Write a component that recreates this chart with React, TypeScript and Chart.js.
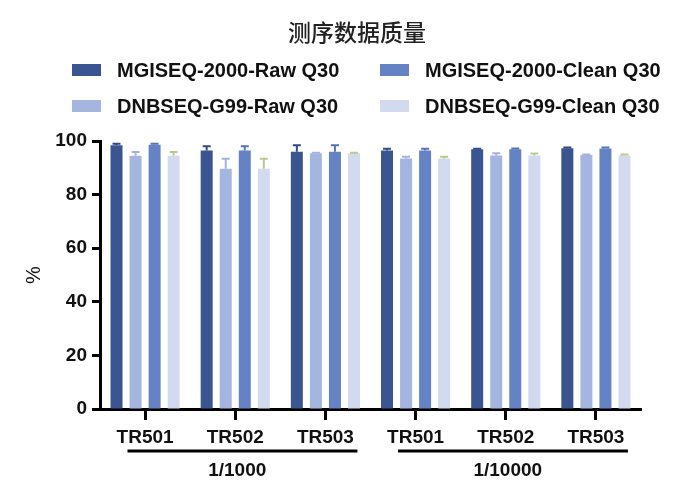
import { useEffect, useRef } from "react";
import { Chart, registerables } from "chart.js";
import type { Plugin } from "chart.js";

Chart.register(...registerables);

const chartTitle = "测序数据质量";
const yAxisTitle = "%";
const samples = ["TR501", "TR502", "TR503", "TR501", "TR502", "TR503"];
const dilutions = ["1/1000", "1/10000"];
const samplesPerDilution = 3;
const yTicks = [0, 20, 40, 60, 80, 100];

const seriesNames = [
  "MGISEQ-2000-Raw Q30",
  "DNBSEQ-G99-Raw Q30",
  "MGISEQ-2000-Clean Q30",
  "DNBSEQ-G99-Clean Q30",
];

const mgiRaw = [98.4, 96.5, 96.0, 96.5, 96.9, 97.3];
const mgiRawErr = [0.6, 1.5, 2.4, 0.6, 0.2, 0.3];
const dnbRaw = [94.5, 89.6, 95.4, 93.5, 94.6, 94.8];
const dnbRawErr = [1.4, 3.8, 0.2, 0.6, 0.8, 0.2];
const mgiClean = [98.6, 96.5, 96.0, 96.5, 96.9, 97.2];
const mgiCleanErr = [0.4, 1.5, 2.4, 0.6, 0.3, 0.4];
const dnbClean = [94.5, 89.6, 95.4, 93.5, 94.6, 94.6];
const dnbCleanErr = [1.4, 3.8, 0.2, 0.6, 0.7, 0.4];

const seriesValues = [mgiRaw, dnbRaw, mgiClean, dnbClean];
const seriesErrors = [mgiRawErr, dnbRawErr, mgiCleanErr, dnbCleanErr];
const barColors = ["#3b5591", "#a4b6df", "#6582c5", "#d1daef"];
const errColors = ["#2f4a87", "#a2b3dc", "#5574bb", "#b9cb8c"];

const SANS = "'Liberation Sans', Arial, Helvetica, sans-serif";
const CJK = "'Noto Sans CJK SC', 'Noto Sans', sans-serif";

// title + two-column legend drawn at the top
const headerPlugin: Plugin<"bar"> = {
  id: "header",
  afterDraw(chart) {
    const ctx = chart.ctx;
    ctx.save();
    ctx.fillStyle = "#222";
    ctx.font = `500 23px ${CJK}`;
    ctx.textAlign = "center";
    ctx.textBaseline = "middle";
    ctx.fillText(chartTitle, 357, 32);

    ctx.font = `bold 20px ${SANS}`;
    ctx.textAlign = "left";
    const colX = [72, 380];
    const rowY = [70, 106];
    chart.data.datasets.forEach((ds, i) => {
      const x = colX[Math.floor(i / 2)];
      const y = rowY[i % 2];
      ctx.fillStyle = ds.backgroundColor as string;
      ctx.fillRect(x, y - 6, 29, 12);
      ctx.fillStyle = "#111";
      ctx.fillText(ds.label ?? "", x + 45, y + 1);
    });
    ctx.restore();
  },
};

// upward-only error bars with caps
const errorBarPlugin: Plugin<"bar"> = {
  id: "errorBars",
  afterDatasetsDraw(chart) {
    const ctx = chart.ctx;
    const yScale = chart.scales.y;
    ctx.save();
    ctx.lineWidth = 2;
    chart.data.datasets.forEach((_, d) => {
      const meta = chart.getDatasetMeta(d);
      ctx.strokeStyle = errColors[d];
      meta.data.forEach((bar, i) => {
        const v = seriesValues[d][i];
        const e = seriesErrors[d][i];
        const y0 = yScale.getPixelForValue(v);
        const y1 = yScale.getPixelForValue(v + e);
        ctx.beginPath();
        ctx.moveTo(bar.x, y0);
        ctx.lineTo(bar.x, y1);
        ctx.moveTo(bar.x - 4, y1);
        ctx.lineTo(bar.x + 4, y1);
        ctx.stroke();
      });
    });
    ctx.restore();
  },
};

// dilution group underline + label under the x tick labels
const groupPlugin: Plugin<"bar"> = {
  id: "groups",
  afterDraw(chart) {
    const ctx = chart.ctx;
    const xScale = chart.scales.x;
    const w = xScale.width / samples.length;
    ctx.save();
    ctx.strokeStyle = "#000";
    ctx.lineWidth = 3;
    ctx.fillStyle = "#111";
    ctx.font = `bold 19px ${SANS}`;
    ctx.textAlign = "center";
    ctx.textBaseline = "middle";
    dilutions.forEach((label, g) => {
      const first = g * samplesPerDilution;
      const last = first + samplesPerDilution - 1;
      const mid = first + Math.floor(samplesPerDilution / 2);
      const x0 = xScale.getPixelForValue(first) - 0.195 * w;
      const x1 = xScale.getPixelForValue(last) + 0.355 * w;
      ctx.beginPath();
      ctx.moveTo(x0, 451);
      ctx.lineTo(x1, 451);
      ctx.stroke();
      ctx.fillText(label, xScale.getPixelForValue(mid) + 2, 471);
    });
    ctx.restore();
  },
};

export default function App() {
  const canvasRef = useRef<HTMLCanvasElement | null>(null);

  useEffect(() => {
    if (!canvasRef.current) return;
    const chart = new Chart(canvasRef.current, {
      type: "bar",
      data: {
        labels: samples,
        datasets: seriesNames.map((name, i) => ({
          label: name,
          data: seriesValues[i],
          backgroundColor: barColors[i],
          borderWidth: 0,
          categoryPercentage: 0.845,
          barPercentage: 0.63,
        })),
      },
      options: {
        animation: false,
        responsive: true,
        maintainAspectRatio: false,
        layout: { padding: { top: 141, right: 59, left: 0, bottom: 0 } },
        plugins: {
          legend: { display: false },
          title: { display: false },
          tooltip: { enabled: false },
        },
        scales: {
          x: {
            afterFit: (scale) => {
              scale.height = 95;
            },
            grid: {
              display: true,
              offset: false,
              drawOnChartArea: false,
              drawTicks: true,
              tickLength: 11,
              tickWidth: 3,
              tickColor: "#000",
            },
            border: { display: true, color: "#000", width: 3 },
            ticks: {
              color: "#111",
              padding: 6,
              font: { family: SANS, size: 19, weight: "bold" },
            },
          },
          y: {
            min: 0,
            max: 100,
            afterFit: (scale) => {
              scale.width = 100;
            },
            afterBuildTicks: (scale) => {
              scale.ticks = yTicks.map((v) => ({ value: v }));
            },
            grid: {
              display: true,
              drawOnChartArea: false,
              drawTicks: true,
              tickLength: 8,
              tickWidth: 3,
              tickColor: "#000",
            },
            border: { display: true, color: "#000", width: 3 },
            ticks: {
              color: "#111",
              padding: 5,
              font: { family: SANS, size: 19, weight: "bold" },
            },
            title: {
              display: true,
              text: yAxisTitle,
              color: "#111",
              padding: { top: 22, bottom: 0 },
              font: { family: SANS, size: 20 },
            },
          },
        },
      },
      plugins: [errorBarPlugin, groupPlugin, headerPlugin],
    });

    return () => {
      chart.destroy();
    };
  }, []);

  return (
    <div style={{ position: "fixed", left: 0, top: 0, width: 700, height: 504, background: "#fff" }}>
      <canvas ref={canvasRef} />
    </div>
  );
}
